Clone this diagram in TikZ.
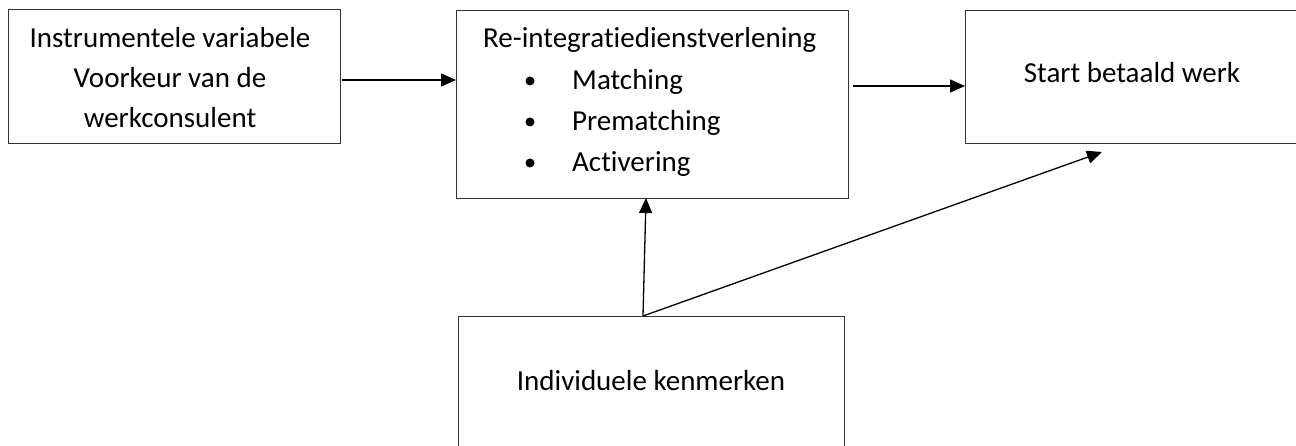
\documentclass[tikz,border=0pt]{standalone}
\usepackage{fontspec}
\setmainfont{Carlito}[RawFeature={-liga;-dlig;-clig}]
\usetikzlibrary{arrows.meta}
\begin{document}
\begin{tikzpicture}[x=1pt,y=-1pt,
  box/.style={draw=black!80,line width=1.1pt,rectangle,inner sep=0pt,anchor=north west},
  txt/.style={inner sep=0pt,anchor=base,font=\fontsize{29}{36}\selectfont},
  txtw/.style={txt,anchor=base west},
  dot/.style={circle,fill=black,inner sep=0pt,minimum size=9pt},
  arr/.style={line width=1.3pt,-{Triangle[length=15pt,width=13pt]}}]
\useasboundingbox (0,0) rectangle (1296,446);
% boxes
\node[box,minimum width=332pt,minimum height=134pt] (b1) at (8,9) {};
\node[box,minimum width=392pt,minimum height=188pt] (b2) at (456,10) {};
\node[box,minimum width=335pt,minimum height=133pt] (b3) at (965,10) {};
\node[box,minimum width=386pt,minimum height=135pt] (b4) at (458,316) {};
% texts
\node[txt] (t1a) at (170,48) {Instrumentele variabele};
\node[txt] (t1b) at (170,88) {Voorkeur van de};
\node[txt] (t1c) at (170,128) {werkconsulent};
\node[txtw] (t2) at (483,48) {Re-integratiedienstverlening};
\node[txtw] (t2a) at (572,90) {Matching};
\node[txtw] (t2b) at (572,131) {Prematching};
\node[txtw] (t2c) at (572,172) {Activering};
\node[dot] (d1) at (530,81) {};
\node[dot] (d2) at (530,122) {};
\node[dot] (d3) at (530,163) {};
\node[txt] (t3) at (1132,83) {Start betaald werk};
\node[txt] (t4) at (651,390) {Individuele kenmerken};
% connectors
\coordinate (a1) at (342,80);
\coordinate (a2) at (853,86);
\coordinate (k) at (643,316);
\coordinate (kt) at (646,198);
\coordinate (tip) at (1102,152);
\draw[arr] (a1) -- (b2.west |- a1);
\draw[arr] (a2) -- (b3.west |- a2);
\draw[arr] (k) -- (kt);
\draw[arr] (k) -- (tip);
\end{tikzpicture}
\end{document}
